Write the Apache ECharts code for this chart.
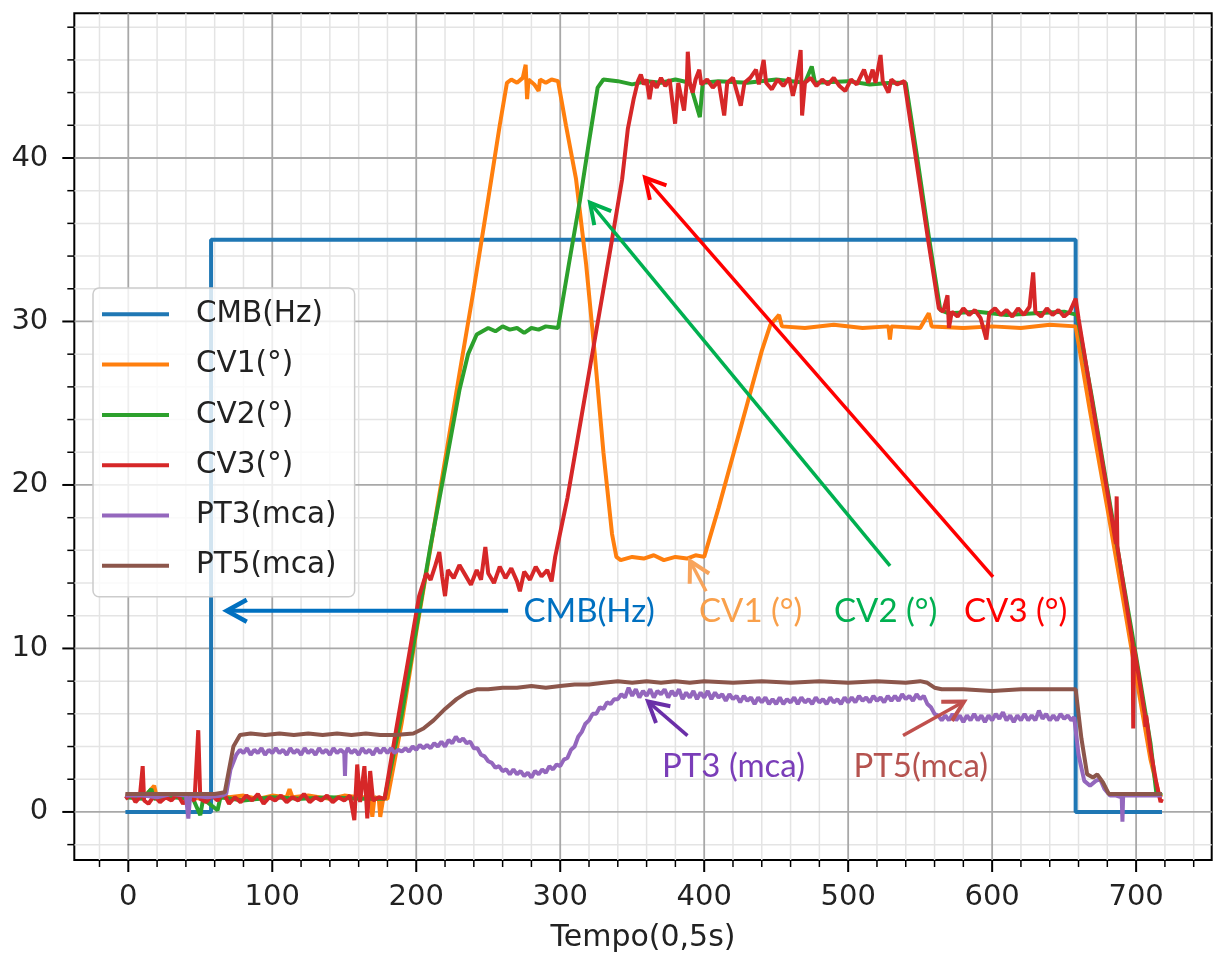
<!DOCTYPE html>
<html><head><meta charset="utf-8">
<script src="https://cdn.jsdelivr.net/npm/echarts@6/dist/echarts.min.js"></script>
<style>html,body{margin:0;padding:0;background:#fff}#c{width:1216px;height:958px}</style>
</head><body><div id="c"></div>
<script>
// ---------- axis ranges and ticks ----------
const X_MIN = -37.5, X_MAX = 752.5, Y_MIN = -2.94, Y_MAX = 48.85;
const xMajor = [0, 100, 200, 300, 400, 500, 600, 700];
const xMinor = [-20, 20, 40, 60, 80, 120, 140, 160, 180, 220, 240, 260, 280, 320, 340, 360, 380, 420, 440, 460, 480, 520, 540, 560, 580, 620, 640, 660, 680, 720, 740];
const yMajor = [0, 10, 20, 30, 40];
const yMinor = [-2, 2, 4, 6, 8, 12, 14, 16, 18, 22, 24, 26, 28, 32, 34, 36, 38, 42, 44, 46, 48];

// ---------- series data [tempo, value] ----------
const CMB = [[-2,0],[57.5,0],[57.5,35],[658,35],[658,0],[718,0]];

const CV1 = [[-2,1.0],[5,0.9],[12,1.0],[18,1.6],[20,0.8],[30,0.9],[40,1.0],[50,0.8],[60,1.1],[70,0.9],[80,1.0],[90,0.8],[100,1.0],[110,0.9],[112,1.4],[114,0.9],[125,1.0],[140,0.8],[150,1.0],[160,0.9],[168,0.9],[169.5,-0.3],[171,0.9],[174,0.8],[175,-0.3],[177,0.8],[180,0.8],
 [190,5.5],[200,11],[210,16.2],[220,21.5],[230,26.8],[240,32],[250,37.5],[258,42],[263,44.6],
 [266,44.8],[270,44.6],[274,44.9],[276,45.7],[277,43.6],[278,44.8],[282,44.5],[285,44.1],[286,44.8],[290,44.6],[294,44.8],[298.5,44.7],
 [304,42],[311,38.7],[318,33.5],[324,28],[330,22],[336,17],[339,15.6],
 [342,15.4],[350,15.6],[358,15.5],[365,15.7],[372,15.4],[380,15.6],[388,15.5],[394,15.7],[400,15.6],
 [410,18.6],[420,21.8],[430,25],[440,28.2],[446,29.8],
 [452,30.4],[454,29.7],[470,29.6],[490,29.8],[510,29.6],[528,29.7],[529,28.9],[530,29.7],[550,29.6],[556,30.5],[558,29.7],[580,29.6],[600,29.7],[620,29.6],[640,29.8],[658,29.7],
 [668,24.5],[680,18.6],[690,13.5],[700,8.3],[710,3.2],[716,1.0],[718,0.9]];

const CV2 = [[-2,0.9],[10,0.8],[16,1.4],[18,0.8],[30,0.9],[45,0.8],[50,-0.2],[52,0.8],[62,0.1],[64,0.9],[80,0.7],[100,0.9],[120,0.8],[140,0.9],[160,0.8],[178,0.8],
 [190,6],[200,11.2],[210,16.3],[220,21.0],[230,25.8],[236,28.0],[242,29.2],[246,29.4],
 [250,29.6],[255,29.4],[260,29.7],[265,29.5],[270,29.6],[275,29.3],[280,29.6],[285,29.5],[290,29.7],[298.5,29.6],
 [306,33.5],[313.7,37.4],[320,41],[326,44.3],[330,44.8],
 [340,44.7],[350,44.5],[360,44.7],[370,44.6],[380,44.8],[390,44.6],[397,42.5],[399,44.6],[410,44.7],[430,44.6],[450,44.8],[470,44.6],[474.7,45.6],[477,44.6],[500,44.7],[515,44.5],[530,44.6],[540,44.6],
 [548,40],[556,35.2],[564,30.7],
 [570,30.5],[590,30.6],[610,30.4],[630,30.5],[650,30.6],[659,30.4],
 [670,25],[680,19.8],[690,14.6],[700,9.5],[710,4.2],[714,1.2],[718,1.0]];

const CV3 = [[-2,0.8],[2,1.1],[5,0.6],[8,0.9],[10,2.8],[11,0.7],[14,0.5],[18,1.0],[22,0.6],[26,0.9],[30,0.7],[34,1.1],[38,0.5],[42,0.9],[46,0.7],[48.6,5.0],[50,0.8],[54,0.6],[58,1.0],[62,0.7],[66,1.2],[70,0.5],[74,0.9],[78,0.6],[82,1.0],[86,0.7],[90,1.1],[94,0.5],[98,0.9],[102,0.7],[106,1.0],[110,0.6],[114,0.9],[118,0.7],[122,1.1],[126,0.6],[130,0.9],[134,0.7],[138,1.0],[142,0.6],[146,0.9],[150,0.7],[154,1.0],[157,-0.5],[159,2.9],[161,0.6],[164,2.8],[166,-0.4],[168,2.5],[170,0.7],[174,0.9],[178,0.8],
 [186,5],[195,9.6],[202,13.2],[207,14.6],
 [210,14.2],[213,15.0],[216,15.9],[218,14.4],[220,13.2],[222,14.8],[226,14.3],[230,15.1],[234,14.5],[238,13.9],[242,14.8],[245,14.2],[248,16.2],[250,14.6],[254,14.0],[258,15.0],[262,14.3],[266,14.9],[270,14.1],[272,13.5],[275,14.7],[279,14.2],[283,15.0],[287,14.4],[291,14.8],[294,14.1],[296.5,15.6],
 [305,19.2],[315,24.3],[325,29.4],[335,34.5],[343,38.7],[347,41.8],[351,43.6],[354,44.7],
 [356,45.1],[358,44.5],[360,44.8],[362,43.6],[364,44.7],[367,44.3],[370,44.9],[373,44.4],[376,44.8],[379.8,42.1],[382,44.6],[386,42.9],[388,44.7],[388.6,46.5],[390,44.6],[392,44.0],[394,44.8],[396.6,45.4],[398,44.5],[402,44.8],[406,44.3],[410,44.7],[413.9,42.6],[416,44.6],[420,44.9],[425.4,43.2],[428,44.6],[432,44.9],[436,45.4],[438,44.5],[441.3,46.0],[443,44.6],[447,44.2],[451,44.8],[455,44.4],[459,44.9],[461.6,43.8],[464,44.7],[467,46.6],[468,42.6],[470,44.6],[474,44.9],[478,44.4],[482,44.8],[486,44.5],[490,44.9],[494,44.4],[498,44.1],[502,44.8],[506,44.5],[511,45.4],[514,44.6],[517,45.4],[519,44.6],[522.5,46.3],[524,44.7],[528,44.0],[530,44.8],[534,44.5],[539,44.7],
 [547,40],[555,35.3],[563,30.8],
 [566,30.6],[569,31.6],[570,29.6],[572,30.6],[576,30.3],[580,30.8],[584,30.4],[588,30.7],[592,30.2],[596,28.9],[598,30.5],[602,30.8],[606,30.4],[610,30.7],[614,30.3],[618,30.8],[622,30.4],[626,30.9],[628.5,33.0],[630,30.6],[634,30.3],[638,30.8],[642,30.4],[646,30.7],[650,30.3],[654,30.6],[658,31.4],
 [660,30.2],[670,24.8],[680,19.6],[686,16.4],[686.5,19.3],[687,16.2],[692,13.4],[697.6,10.3],[698,5.1],[698.5,10.1],[702,8.2],[706,6.0],[706.5,5.2],[707,5.9],[710,3.8],[714,1.8],[717,0.6],[718,0.8]];

const PT3 = [[-2,1.0],[10,1.0],[20,0.9],[30,1.1],[40,1.0],[41.7,-0.4],[43,1.0],[55,0.9],[65,1.0],[68,1.1],[71,2.6],
 [75,3.5],[77.5,3.8],[80,3.6],[82.5,3.9],[85,3.5],[87.5,3.8],[90,3.6],[92.5,3.9],[95,3.5],[97.5,3.8],[100,3.6],[102.5,3.9],[105,3.6],[107.5,3.8],[110,3.5],[112.5,3.9],[115,3.6],[117.5,3.8],[120,3.5],[122.5,3.9],[125,3.6],[127.5,3.8],[130,3.5],[132.5,3.9],[135,3.6],[137.5,3.8],[140,3.5],[142.5,3.9],[145,3.6],[147.5,3.8],[150,3.6],[150.5,2.2],[151,3.6],[152.5,3.9],[155,3.6],[157.5,3.8],[160,3.5],[162.5,3.9],[165,3.6],[167.5,3.8],[170,3.5],[172.5,3.9],[175,3.6],[177.5,3.9],[180,3.6],[182.5,3.9],[185,3.6],[187.5,3.8],[190,3.7],[192.5,3.9],[195,3.7],[197.5,4.0],
 [200,3.8],[202.5,4.1],[205,3.9],[207.5,4.1],[210,3.9],[212.5,4.2],[215,4.0],[217.5,4.3],[220,4.0],[222.5,4.4],[225,4.2],[227.5,4.6],[230,4.3],[232.5,4.5],[235,4.2],[237.5,4.3],[240,3.9],[242.5,3.9],[245,3.5],[247.5,3.4],[250,3.1],[252.5,3.0],[255,2.7],[257.5,2.8],[260,2.5],[262.5,2.6],[265,2.3],[267.5,2.6],[270,2.3],[272.5,2.5],[275,2.2],[277.5,2.4],[280,2.1],[282.5,2.5],[285,2.3],[287.5,2.6],[290,2.4],[292.5,2.8],[295,2.6],[297.5,2.9],
 [300,2.8],[302.5,3.2],[305,3.3],[307.5,3.8],[310,4.0],[312.5,4.6],[315,4.9],[317.5,5.4],[320,5.6],[322.5,6.0],[325,6.0],[327.5,6.4],[330,6.3],[332.5,6.7],[335,6.6],[337.5,6.9],
 [340,6.9],[342.5,7.2],[345,7.0],[347.5,7.6],[350,7.1],[352.5,7.5],[355,7.0],[357.5,7.4],[360,7.1],[362.5,7.5],[365,7.0],[367.5,7.4],[370,7.2],[372.5,7.5],[375,7.0],[377.5,7.4],[380,7.1],[382.5,7.5],[385,6.9],[387.5,7.3],[390,7.0],[392.5,7.4],[395,6.9],[397.5,7.3],
 [400,7.0],[402.5,7.4],[405,6.9],[407.5,7.3],[410,7.0],[412.5,7.2],[415,6.8],[417.5,7.2],[420,6.9],[422.5,7.1],[425,6.7],[427.5,7.1],[430,6.8],[432.5,7.0],[435,6.6],[437.5,7.0],[440,6.7],[442.5,7.0],[445,6.6],[447.5,6.9],[450,6.6],[452.5,7.0],[455,6.6],[457.5,6.9],[460,6.7],[462.5,7.0],[465,6.6],[467.5,7.0],[470,6.7],[472.5,6.9],[475,6.6],[477.5,7.0],[480,6.7],[482.5,6.9],[485,6.6],[487.5,7.0],[490,6.7],[492.5,6.9],[495,6.6],[497.5,7.0],
 [500,6.7],[502.5,7.0],[505,6.7],[507.5,7.1],[510,6.8],[512.5,7.0],[515,6.7],[517.5,7.1],[520,6.8],[522.5,7.0],[525,6.7],[527.5,7.1],[530,6.8],[532.5,7.1],[535,6.8],[537.5,7.2],[540,6.9],[542.5,7.1],[545,6.8],[547.5,7.2],[550,6.9],[552.5,7.1],[555,6.6],[557.5,6.4],[560,6.0],[562.5,5.9],[565,5.6],[567.5,5.9],[570,5.6],[572.5,6.0],[575,5.6],[577.5,5.9],[580,5.5],[582.5,5.9],[585,5.6],[587.5,6.0],[590,5.6],[592.5,5.9],[595,5.5],[597.5,5.9],
 [600,5.6],[602.5,6.0],[605,5.7],[607.5,6.1],[610,5.6],[612.5,5.9],[615,5.5],[617.5,5.9],[620,5.6],[622.5,6.0],[625,5.6],[627.5,5.9],[630,5.6],[632.5,6.2],[635,5.7],[637.5,6.0],[640,5.6],[642.5,5.9],[645,5.6],[647.5,6.0],[650,5.7],[652.5,5.9],[655,5.6],[657,5.8],
 [660,3.5],[664,1.9],[668,1.6],[672,1.9],[675,2.0],[678,1.4],[682,1.0],[686,1.0],[690,0.9],[690.5,-0.6],[691,1.0],[700,1.0],[710,1.0],[718,1.0]];

const PT5 = [[-2,1.1],[20,1.1],[40,1.1],[60,1.1],[67,1.2],[70,2.6],[73,4.0],[77.6,4.7],[85,4.8],[95,4.7],[105,4.8],[115,4.7],[125,4.8],[135,4.7],[145,4.8],[155,4.7],[165,4.8],[175,4.7],[185,4.7],[198,4.8],[205,5.1],[212,5.6],[220,6.3],[228,6.9],[235,7.3],[242,7.5],[250,7.5],[260,7.6],[270,7.6],[280,7.7],[290,7.6],[300,7.7],[310,7.8],[320,7.8],[330,7.9],[340,8.0],[350,7.9],[360,8.0],[370,7.9],[380,8.0],[390,7.9],[400,8.0],[420,7.9],[440,8.0],[460,7.9],[480,8.0],[500,7.9],[520,8.0],[540,7.9],[550,8.0],[555,7.9],[560,7.6],[565,7.5],[580,7.5],[600,7.4],[620,7.5],[640,7.5],[658,7.5],[662,4.5],[666,2.3],[670,2.1],[673,2.3],[677,1.8],[681,1.1],[690,1.1],[700,1.1],[718,1.1]];

const seriesNames = ['CMB(Hz)', 'CV1(°)', 'CV2(°)', 'CV3(°)', 'PT3(mca)', 'PT5(mca)'];
const seriesData = [CMB, CV1, CV2, CV3, PT3, PT5];
const seriesColors = ['#1f77b4', '#ff7f0e', '#2ca02c', '#d62728', '#9467bd', '#8c564b'];

// ---------- annotations (data coordinates) ----------
const annoArrows = [
  {from: [263.8, 12.3], to: [68.4, 12.3], color: '#0070C0', width: 4},
  {from: [401.3, 13.5], to: [390.2, 15.35], color: '#F8A45C', width: 3.5},
  {from: [529.1, 15.05], to: [320.7, 37.27], color: '#00B050', width: 3.5},
  {from: [600.6, 14.38], to: [358.9, 38.8], color: '#FF0000', width: 3.5},
  {from: [388.4, 4.67], to: [361, 6.75], color: '#6A2FA8', width: 3.5},
  {from: [538.1, 4.67], to: [580.5, 6.75], color: '#C0504D', width: 3.5}
];
const annoTexts = [
  {text: 'CMB(Hz)', at: [274.5, 12.27], color: '#0070C0'},
  {text: 'CV1 (°)', at: [396.4, 12.27], color: '#F9A04B'},
  {text: 'CV2 (°)', at: [490.2, 12.27], color: '#00B050'},
  {text: 'CV3 (°)', at: [580.5, 12.27], color: '#FF0000'},
  {text: 'PT3 (mca)', at: [370.7, 2.78], color: '#7A3DB8'},
  {text: 'PT5(mca)', at: [503.7, 2.78], color: '#B5534F'}
];

const TICK_FONT = 'DejaVu Sans';
const chart = echarts.init(document.getElementById('c'));

function vLines(vals, color, width, tickLen, tickW) {
  return {
    type: 'custom', z: 1, silent: true, clip: false,
    data: vals.map(v => [v, 0]),
    renderItem: (params, api) => {
      const v = api.value(0);
      const a = api.coord([v, Y_MIN]), b = api.coord([v, Y_MAX]);
      return {type: 'group', children: [
        {type: 'line', shape: {x1: a[0], y1: a[1], x2: b[0], y2: b[1]}, style: {stroke: color, lineWidth: width}},
        {type: 'line', shape: {x1: a[0], y1: a[1], x2: a[0], y2: a[1] + tickLen}, style: {stroke: '#000', lineWidth: tickW}}
      ]};
    }
  };
}
function hLines(vals, color, width, tickLen, tickW) {
  return {
    type: 'custom', z: 1, silent: true, clip: false,
    data: vals.map(v => [0, v]),
    renderItem: (params, api) => {
      const v = api.value(1);
      const a = api.coord([X_MIN, v]), b = api.coord([X_MAX, v]);
      return {type: 'group', children: [
        {type: 'line', shape: {x1: a[0], y1: a[1], x2: b[0], y2: b[1]}, style: {stroke: color, lineWidth: width}},
        {type: 'line', shape: {x1: a[0] - tickLen, y1: a[1], x2: a[0], y2: a[1]}, style: {stroke: '#000', lineWidth: tickW}}
      ]};
    }
  };
}

const series = [
  vLines(xMinor, '#e4e4e4', 1.5, 7, 1.5),
  hLines(yMinor, '#e4e4e4', 1.5, 7, 1.5),
  vLines(xMajor, '#a8a8a8', 1.8, 12, 2),
  hLines(yMajor, '#a8a8a8', 1.8, 12, 2)
];
seriesNames.forEach((n, i) => series.push({
  name: n, type: 'line', data: seriesData[i], symbol: 'none', z: 3,
  color: seriesColors[i],
  lineStyle: {width: 4, color: seriesColors[i]}
}));

chart.setOption({
  animation: false,
  backgroundColor: '#fff',
  grid: {left: 74.3, right: 4.3, top: 13.3, bottom: 96.3, show: true, borderColor: '#000', borderWidth: 2, backgroundColor: '#fff'},
  xAxis: {
    type: 'value', min: X_MIN, max: X_MAX,
    axisLine: {show: false}, axisTick: {show: false}, splitLine: {show: false},
    axisLabel: {customValues: xMajor, fontSize: 29, fontFamily: TICK_FONT, color: '#222', margin: 23},
    name: 'Tempo(0,5s)', nameLocation: 'middle', nameGap: 63,
    nameTextStyle: {fontSize: 30, fontFamily: TICK_FONT, color: '#222'}
  },
  yAxis: {
    type: 'value', min: Y_MIN, max: Y_MAX,
    axisLine: {show: false}, axisTick: {show: false}, splitLine: {show: false},
    axisLabel: {customValues: yMajor, fontSize: 29, fontFamily: TICK_FONT, color: '#222', margin: 26}
  },
  legend: {
    data: seriesNames, orient: 'vertical', left: 93, top: 288,
    icon: 'rect', itemWidth: 67, itemHeight: 4, itemGap: 20.3,
    padding: [11.3, 18, 16, 9],
    backgroundColor: 'rgba(255,255,255,0.8)', borderColor: '#cccccc', borderWidth: 1.5, borderRadius: 6,
    textStyle: {fontSize: 29.5, lineHeight: 28, fontFamily: TICK_FONT, color: '#222', padding: [0, 0, 0, 22]}
  },
  series: series
});

// annotation graphics positioned through the chart's own scales
const elements = [];
annoArrows.forEach(a => {
  const p1 = chart.convertToPixel({gridIndex: 0}, a.from);
  const p2 = chart.convertToPixel({gridIndex: 0}, a.to);
  const dx = p2[0] - p1[0], dy = p2[1] - p1[1];
  const len = Math.hypot(dx, dy), ux = dx / len, uy = dy / len;
  const L = 20, W = 11;
  const h1 = [p2[0] - L * ux + W * uy, p2[1] - L * uy - W * ux];
  const h2 = [p2[0] - L * ux - W * uy, p2[1] - L * uy + W * ux];
  elements.push({type: 'line', z: 100, shape: {x1: p1[0], y1: p1[1], x2: p2[0], y2: p2[1]}, style: {stroke: a.color, lineWidth: a.width}});
  elements.push({type: 'polyline', z: 100, shape: {points: [h1, p2, h2]}, style: {stroke: a.color, lineWidth: a.width + 0.5, fill: null, lineJoin: 'miter'}});
});
annoTexts.forEach(t => {
  const p = chart.convertToPixel({gridIndex: 0}, t.at);
  elements.push({type: 'text', z: 100, x: p[0], y: p[1], style: {text: t.text, fill: t.color, fontSize: 33, fontFamily: 'Lato', align: 'left', verticalAlign: 'middle'}});
});
chart.setOption({graphic: {elements: elements}});
</script>
</body></html>
